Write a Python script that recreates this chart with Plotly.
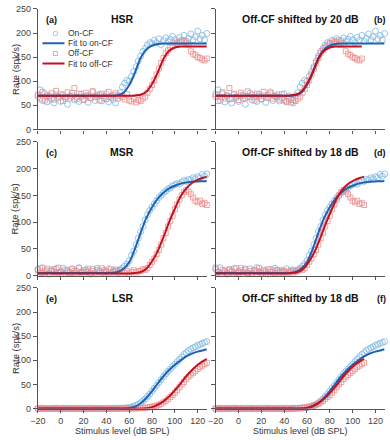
import plotly.graph_objects as go

# ---------------- data ----------------
levels = list(range(-20, 130, 2))            # stimulus level (dB SPL), 75 points
fit_levels = list(range(-20, 130, 5)) + [128]  # 31 points for fitted curves
tick_x = list(range(-20, 121, 20))
tick_y = list(range(0, 251, 50))

hsr_on = [68, 82, 60, 74, 57, 70, 63, 55, 72, 66, 58, 71, 64, 52, 69,
          75, 61, 67, 58, 73, 63, 70, 56, 66, 78, 60, 68, 72, 59, 65,
          74, 57, 69, 62, 55, 70, 76, 88, 96, 102, 100, 110, 120, 130, 142,
          152, 162, 168, 175, 180, 178, 185, 180, 188, 176, 184, 190, 182, 187, 193,
          186, 180, 191, 185, 195, 183, 189, 198, 186, 192, 204, 188, 195, 186, 199]
hsr_off = [72, 64, 78, 60, 70, 66, 75, 62, 80, 68, 73, 59, 67, 77, 64,
           70, 86, 63, 74, 68, 61, 76, 70, 65, 79, 67, 72, 60, 74, 69,
           63, 78, 66, 71, 75, 64, 70, 67, 62, 73, 60, 58, 63, 56, 61,
           59, 64, 68, 76, 84, 92, 102, 114, 126, 138, 148, 158, 164, 170, 174,
           180, 178, 183, 181, 185, 180, 176, 162, 157, 154, 150, 148, 145, 143, 147]
msr_on = [12, 6, 15, 4, 9, 3, 11, 7, 13, 5, 8, 14, 4, 10, 6,
          13, 5, 9, 15, 7, 4, 11, 8, 3, 12, 6, 14, 9, 5, 10,
          7, 13, 4, 9, 11, 8, 11, 14, 18, 22, 28, 38, 46, 58, 70,
          82, 92, 104, 114, 122, 128, 134, 140, 146, 150, 155, 158, 162, 164, 168,
          170, 172, 171, 175, 178, 176, 180, 179, 183, 181, 185, 183, 189, 186, 190]
msr_off = [10, 14, 5, 8, 13, 4, 9, 12, 6, 15, 7, 3, 11, 8, 5,
           12, 9, 4, 14, 6, 10, 7, 13, 5, 9, 3, 11, 8, 14, 6,
           9, 4, 12, 7, 10, 5, 11, 8, 6, 9, 4, 7, 10, 6, 8,
           9, 12, 11, 14, 20, 26, 32, 40, 48, 58, 70, 80, 92, 102, 112,
           124, 133, 142, 150, 156, 160, 157, 152, 146, 140, 137, 140, 134, 136, 132]
lsr_on = [0, 0, 1, 0, 0, 0, 0, 0, 1, 0, 0, 1, 0, 0, 0,
          0, 0, 0, 0, 1, 0, 0, 0, 1, 0, 0, 0, 0, 0, 0,
          0, 1, 0, 0, 1, 0, 1, 1, 1, 2, 2, 3, 5, 7, 9,
          12, 16, 20, 25, 30, 36, 42, 48, 54, 60, 66, 72, 77, 82, 87,
          92, 97, 102, 107, 112, 116, 120, 123, 126, 128, 131, 133, 135, 137, 139]
lsr_off = [0, 1, 0, 0, 0, 0, 0, 1, 0, 0, 0, 0, 0, 0, 1,
           0, 0, 1, 0, 0, 0, 0, 0, 0, 0, 1, 0, 0, 0, 0,
           0, 0, 0, 1, 0, 0, 0, 1, 0, 0, 0, 0, 1, 0, 1,
           1, 1, 2, 2, 3, 4, 5, 6, 8, 10, 13, 16, 20, 24, 28,
           33, 38, 44, 50, 55, 61, 66, 70, 74, 78, 82, 86, 89, 92, 95]

hsr_fit_on = [70]*14 + [71, 76, 92, 118, 148, 166, 174, 177] + [178]*8 + [178]
hsr_fit_off = [70]*17 + [70.5, 72, 78, 94, 118, 146, 163, 170] + [172]*5 + [172]
msr_fit_on = [5]*14 + [7, 13, 25, 50, 80, 108, 128, 144, 155, 163, 168, 172, 174, 175.5, 176, 176.5, 177]
msr_fit_off = [4]*17 + [5, 7, 13, 27, 46, 72, 100, 125, 148, 163, 173, 179, 183, 185]
lsr_fit_on = [0]*16 + [1, 4, 11, 22, 36, 52, 67, 80, 91, 100, 108, 114, 118, 121, 123]
lsr_fit_off = [0]*19 + [1, 3, 8, 15, 25, 38, 52, 67, 80, 91, 99, 103]

groups = ["HSR", "MSR", "LSR"]
on_data = [hsr_on, msr_on, lsr_on]
off_data = [hsr_off, msr_off, lsr_off]
on_fits = [hsr_fit_on, msr_fit_on, lsr_fit_on]
off_fits = [hsr_fit_off, msr_fit_off, lsr_fit_off]
shifts = [20, 18, 18]
panel_tags = ["(a)", "(b)", "(c)", "(d)", "(e)", "(f)"]
legend_labels = ["On-CF", "Fit to on-CF", "Off-CF", "Fit to off-CF"]
legend_rows_y = [199, 178.5, 157.5, 136.5]

# ---------------- style ----------------
W, H = 390, 440
FONT = "Liberation Sans, Arial, sans-serif"
C_ON_M = "rgba(125,185,228,0.8)"
C_OFF_M = "rgba(238,140,140,0.8)"
C_ON_L = "#1f62b3"
C_OFF_L = "#c0121f"
AX = "#555555"

xdom = {1: [30.5 / W, 203 / W], 2: [212 / W, 384.5 / W]}
ypx = {1: (4, 127.3), 2: (140, 277), 3: (289.5, 413)}
ydom = {r: [1 - b / H, 1 - t / H] for r, (t, b) in ypx.items()}

fig = go.Figure()
layout = dict(width=W, height=H, margin=dict(l=0, r=0, t=0, b=0),
              paper_bgcolor="white", plot_bgcolor="white", showlegend=False,
              font=dict(family=FONT, size=9, color="#333"))
annotations = []
shapes = []

for g in range(3):
    for col in (1, 2):
        k = g * 2 + col
        xa, ya = f"x{k}" if k > 1 else "x", f"y{k}" if k > 1 else "y"
        sh = 0 if col == 1 else shifts[g]
        xs_off = [l - sh for l in levels]
        keep = [i for i, v in enumerate(xs_off) if v >= -20]
        fig.add_trace(go.Scatter(x=levels, y=on_data[g], mode="markers", xaxis=xa, yaxis=ya,
                                 cliponaxis=False,
                                 marker=dict(symbol="circle-open", size=6, color=C_ON_M, line=dict(width=1))))
        fig.add_trace(go.Scatter(x=[xs_off[i] for i in keep], y=[off_data[g][i] for i in keep],
                                 mode="markers", xaxis=xa, yaxis=ya, cliponaxis=False,
                                 marker=dict(symbol="square-open", size=5, color=C_OFF_M, line=dict(width=1))))
        fig.add_trace(go.Scatter(x=fit_levels, y=on_fits[g], mode="lines", xaxis=xa, yaxis=ya,
                                 line=dict(color=C_ON_L, width=2, shape="spline", smoothing=0.8)))
        fig.add_trace(go.Scatter(x=[l - sh for l in fit_levels], y=off_fits[g], mode="lines",
                                 xaxis=xa, yaxis=ya,
                                 line=dict(color=C_OFF_L, width=2, shape="spline", smoothing=0.8)))

        row = g + 1
        axcommon = dict(showline=True, linecolor=AX, linewidth=1.3, ticks="outside",
                        tickwidth=1, tickcolor=AX, showgrid=False, zeroline=False,
                        tickfont=dict(size=9, color="#444"))
        layout["xaxis" + (str(k) if k > 1 else "")] = dict(
            domain=xdom[col], anchor=ya, range=[-20, 128], tickvals=tick_x, ticklen=3,
            showticklabels=(row == 3), **axcommon)
        layout["yaxis" + (str(k) if k > 1 else "")] = dict(
            domain=ydom[row], anchor=xa, range=[0, 250], tickvals=tick_y, ticklen=4,
            showticklabels=(col == 1), **axcommon)

        t, b = ypx[row]
        ty = 1 - 10 / (b - t)
        title = groups[g] if col == 1 else f"Off-CF shifted by {shifts[g]} dB"
        annotations.append(dict(text=f"<b>{title}</b>", xref=f"{xa} domain", yref=f"{ya} domain",
                                x=0.5, y=ty, xanchor="center", yanchor="middle", showarrow=False,
                                font=dict(size=10.5, color="#111")))
        tag_y = 1 - 11 / (b - t)
        if col == 1:
            annotations.append(dict(text=f"<b>{panel_tags[k-1]}</b>", xref=f"{xa} domain",
                                    yref=f"{ya} domain", x=0.081, y=tag_y, xanchor="center",
                                    yanchor="middle", showarrow=False,
                                    font=dict(size=9, color="#111")))
            annotations.append(dict(text="Rate (spk/s)", xref="paper", yref="paper",
                                    x=7 / W, y=1 - (t + b) / 2 / H, textangle=-90,
                                    xanchor="center", yanchor="middle", showarrow=False,
                                    font=dict(size=9.5, color="#333")))
        else:
            annotations.append(dict(text=f"<b>{panel_tags[k-1]}</b>", xref=f"{xa} domain",
                                    yref=f"{ya} domain", x=1.02, xanchor="right", y=tag_y,
                                    yanchor="middle", showarrow=False,
                                    font=dict(size=9, color="#111")))
        if row == 3:
            annotations.append(dict(text="Stimulus level (dB SPL)", xref="paper", yref="paper",
                                    x=sum(xdom[col]) / 2, y=1 - 435.5 / H, xanchor="center",
                                    yanchor="middle", showarrow=False, borderpad=0,
                                    font=dict(size=9, color="#333")))

# legend in panel (a)
kinds = ["m_on", "l_on", "m_off", "l_off"]
for label, kind, yv in zip(legend_labels, kinds, legend_rows_y):
    annotations.append(dict(text=label, xref="x", yref="y", x=4.5, y=yv, xanchor="left",
                            yanchor="middle", showarrow=False, font=dict(size=8.5, color="#333")))
    if kind.startswith("l"):
        shapes.append(dict(type="line", xref="x", yref="y", x0=-16, x1=3.3, y0=yv, y1=yv,
                           line=dict(color=C_ON_L if kind == "l_on" else C_OFF_L, width=2)))
    elif kind == "m_on":
        shapes.append(dict(type="circle", xref="x", yref="y", xsizemode="pixel", ysizemode="pixel",
                           xanchor=-4.7, yanchor=yv, x0=-2.2, x1=2.2, y0=-2.2, y1=2.2,
                           line=dict(color=C_ON_M, width=1)))
    else:
        shapes.append(dict(type="rect", xref="x", yref="y", xsizemode="pixel", ysizemode="pixel",
                           xanchor=-4.7, yanchor=yv, x0=-2, x1=2, y0=-2, y1=2,
                           line=dict(color=C_OFF_M, width=1)))

layout["annotations"] = annotations
layout["shapes"] = shapes
fig.update_layout(**layout)
fig.write_html("out.html", config={"displayModeBar": False},
               post_script="document.body.style.margin='0';document.body.style.padding='0';")
